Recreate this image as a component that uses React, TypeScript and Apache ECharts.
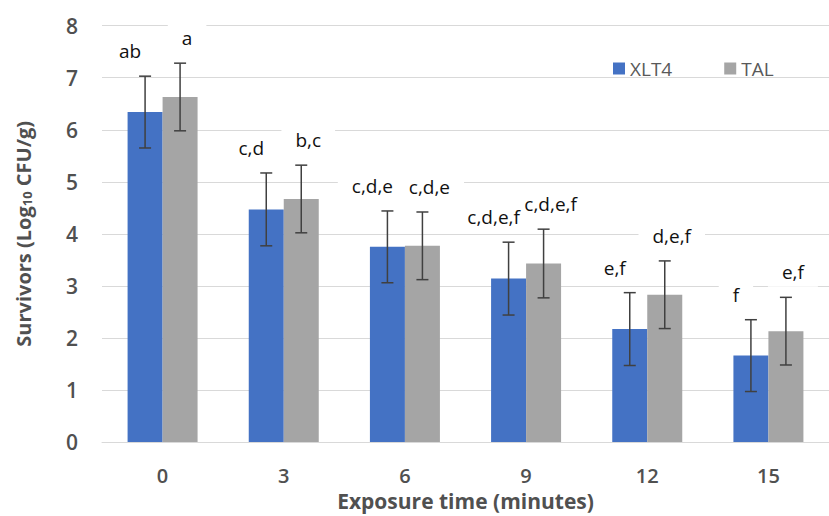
import React, { useEffect, useRef } from "react";
import * as echarts from "echarts";

const categories = ["0", "3", "6", "9", "12", "15"];
const xlt4Values = [6.34, 4.47, 3.75, 3.14, 2.17, 1.66];
const talValues = [6.63, 4.67, 3.77, 3.43, 2.83, 2.13];
const xlt4Errors = [0.69, 0.7, 0.69, 0.7, 0.7, 0.69];
const talErrors = [0.65, 0.65, 0.65, 0.66, 0.65, 0.65];
const xlt4Letters = ["ab", "c,d", "c,d,e", "c,d,e,f", "e,f", "f"];
const talLetters = ["a", "b,c", "c,d,e", "c,d,e,f", "d,e,f", "e,f"];

const FONT = '"Open Sans", "DejaVu Sans", sans-serif';
const BLUE = "#4472C4";
const GRAY = "#A5A5A5";
const AXIS_TEXT = "#505050";
const BAR_W = 35;

function errorSeries(
  name: string,
  values: number[],
  errors: number[],
  letters: string[],
  side: number,
  labelDx: number
) {
  return {
    type: "custom",
    name: name + " error",
    z: 5,
    data: values.map((v, i) => [i, v - errors[i], v + errors[i]]),
    renderItem: (params: any, api: any) => {
      const i = api.value(0);
      const lo = api.coord([i, api.value(1)]);
      const hi = api.coord([i, api.value(2)]);
      const x = lo[0] + side * (BAR_W / 2);
      const lineStyle = { stroke: "#404040", lineWidth: 1.5 };
      const textBase = {
        text: letters[params.dataIndex],
        fontSize: 19,
        fontFamily: FONT,
        align: "center",
        verticalAlign: "middle",
      };
      return {
        type: "group",
        children: [
          {
            type: "text",
            z2: 1,
            x: x + labelDx,
            y: hi[1] - 25,
            style: {
              ...textBase,
              fill: "rgba(255,255,255,0)",
              backgroundColor: "#ffffff",
              padding: [5, 14],
            },
          },
          { type: "line", z2: 5, shape: { x1: x, y1: hi[1], x2: x, y2: lo[1] }, style: lineStyle },
          { type: "line", z2: 5, shape: { x1: x - 6, y1: hi[1], x2: x + 6, y2: hi[1] }, style: lineStyle },
          { type: "line", z2: 5, shape: { x1: x - 6, y1: lo[1], x2: x + 6, y2: lo[1] }, style: lineStyle },
          {
            type: "text",
            z2: 10,
            x: x + labelDx,
            y: hi[1] - 25,
            style: { ...textBase, fill: "#111111" },
          },
        ],
      };
    },
  };
}

export default function App() {
  const ref = useRef<HTMLDivElement>(null);
  useEffect(() => {
    if (!ref.current) return;
    const chart = echarts.init(ref.current, null, { renderer: "svg" });
    chart.setOption({
      animation: false,
      backgroundColor: "#ffffff",
      grid: { left: 102, right: -12, top: 25.7, bottom: 71.7 },
      legend: {
        data: [
          { name: "XLT4", itemStyle: { color: BLUE } },
          { name: "TAL", itemStyle: { color: GRAY } },
        ],
        left: 608,
        top: 54,
        icon: "rect",
        itemWidth: 12,
        itemHeight: 12,
        itemGap: 52,
        textStyle: { fontSize: 19, fontFamily: FONT, color: "#595959" },
      },
      xAxis: {
        type: "category",
        data: categories,
        axisLine: { lineStyle: { color: "#d9d9d9", width: 1 } },
        axisTick: { show: false },
        axisLabel: {
          fontSize: 20,
          fontWeight: 600,
          fontFamily: FONT,
          color: AXIS_TEXT,
          margin: 23,
        },
        name: "Exposure time (minutes)",
        nameLocation: "middle",
        nameGap: 48,
        nameTextStyle: { fontSize: 21, fontWeight: "bold", fontFamily: FONT, color: AXIS_TEXT },
      },
      yAxis: {
        type: "value",
        min: 0,
        max: 8,
        interval: 1,
        axisLine: { show: false },
        axisTick: { show: false },
        splitLine: { lineStyle: { color: "#d9d9d9", width: 1 } },
        axisLabel: {
          fontSize: 21,
          fontWeight: 600,
          fontFamily: FONT,
          color: AXIS_TEXT,
          margin: 24,
        },
        name: "{a|Survivors (Log}{b|10}{a| CFU/g)}",
        nameLocation: "middle",
        nameRotate: 90,
        nameGap: 69,
        nameTextStyle: {
          rich: {
            a: {
              fontSize: 20,
              fontWeight: "bold",
              fontFamily: FONT,
              color: AXIS_TEXT,
              lineHeight: 24,
              verticalAlign: "bottom",
            },
            b: {
              fontSize: 13,
              fontWeight: "bold",
              fontFamily: FONT,
              color: AXIS_TEXT,
              lineHeight: 8,
              verticalAlign: "bottom",
            },
          },
        },
      },
      series: [
        {
          type: "bar",
          name: "XLT4",
          data: xlt4Values,
          barWidth: BAR_W,
          barGap: "0%",
          itemStyle: { color: BLUE },
        },
        {
          type: "bar",
          name: "TAL",
          data: talValues,
          barWidth: BAR_W,
          barGap: "0%",
          itemStyle: { color: GRAY },
        },
        errorSeries("XLT4", xlt4Values, xlt4Errors, xlt4Letters, -1, -15),
        errorSeries("TAL", talValues, talErrors, talLetters, 1, 7),
      ],
    });
    return () => chart.dispose();
  }, []);
  return (
    <div
      ref={ref}
      style={{ position: "absolute", left: 0, top: 0, width: 829, height: 516 }}
    />
  );
}
